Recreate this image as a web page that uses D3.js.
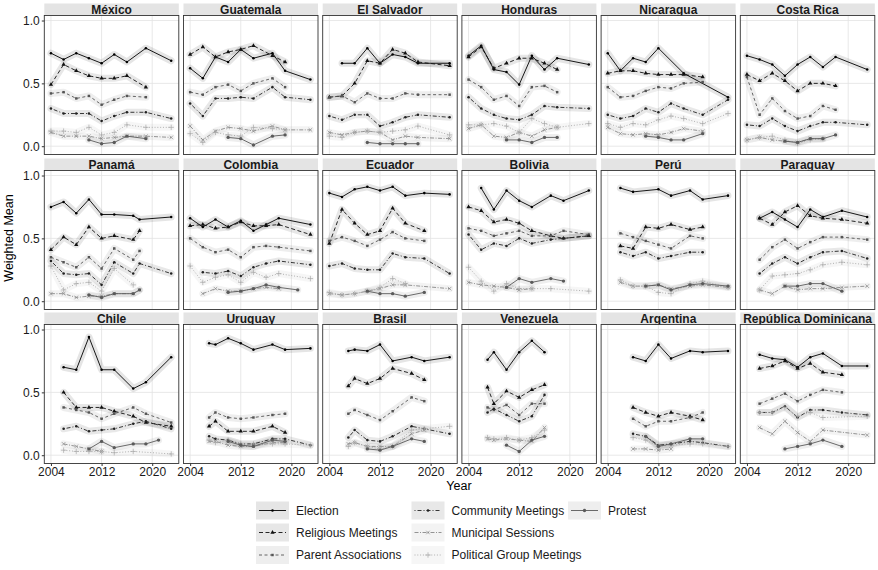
<html>
<head>
<meta charset="utf-8">
<title>Participation by country</title>
<script src="https://cdn.jsdelivr.net/npm/d3@7"></script>
<style>
body { margin: 0; background: #fff; }
text { font-family: "Liberation Sans", Arial, Helvetica, sans-serif; }
</style>
</head>
<body>
<script>

// ---- data ----
var countries = ["México","Guatemala","El Salvador","Honduras","Nicaragua","Costa Rica",
  "Panamá","Colombia","Ecuador","Bolivia","Perú","Paraguay",
  "Chile","Uruguay","Brasil","Venezuela","Argentina","República Dominicana"];

var seriesNames = ["Election","Religious Meetings","Parent Associations","Community Meetings",
  "Municipal Sessions","Political Group Meetings","Protest"];

// survey years for each country (same order as countries)
var waves = [
  [2004,2006,2008,2010,2012,2014,2016,2019,2023],
  [2004,2006,2008,2010,2012,2014,2017,2019,2023],
  [2004,2006,2008,2010,2012,2014,2016,2018,2023],
  [2004,2006,2008,2010,2012,2014,2016,2018,2023],
  [2004,2006,2008,2010,2012,2014,2016,2019,2023],
  [2004,2006,2008,2010,2012,2014,2016,2018,2023],
  [2004,2006,2008,2010,2012,2014,2017,2018,2023],
  [2004,2006,2008,2010,2012,2014,2016,2018,2021,2023],
  [2004,2006,2008,2010,2012,2014,2016,2019,2023],
  [2004,2006,2008,2010,2012,2014,2017,2019,2023],
  [2006,2008,2010,2012,2014,2017,2019,2023],
  [2006,2008,2010,2012,2014,2016,2019,2023],
  [2006,2008,2010,2012,2014,2017,2019,2021,2023],
  [2007,2008,2010,2012,2014,2017,2019,2023],
  [2007,2008,2010,2012,2014,2017,2019,2023],
  [2007,2008,2010,2012,2014,2016],
  [2008,2010,2012,2014,2017,2019,2023],
  [2006,2008,2010,2012,2014,2016,2019,2023]
];

var election = [
  [0.74,0.69,0.74,0.70,0.66,0.73,0.67,0.78,0.68],
  [0.62,0.54,0.71,0.67,0.77,0.70,0.74,0.60,0.53],
  [null,0.66,0.66,0.78,0.66,0.73,0.71,0.66,0.66],
  [0.72,0.80,0.61,0.59,0.49,0.72,0.61,0.70,0.65],
  [0.74,0.60,0.70,0.67,0.78,null,0.58,null,0.39],
  [0.72,0.69,0.65,0.56,0.65,0.71,0.63,0.71,0.61],
  [0.75,0.79,0.70,0.81,0.69,0.69,0.68,0.65,0.67],
  [0.66,0.59,0.65,0.59,0.64,0.56,0.61,0.66,null,0.61],
  [0.86,0.83,0.89,0.91,0.88,0.91,0.84,0.86,0.85],
  [null,0.90,0.73,0.88,0.80,0.75,0.84,0.80,0.88],
  [0.90,0.87,null,0.89,0.84,0.88,0.81,0.84],
  [0.66,0.71,0.65,0.59,0.73,0.67,0.72,0.67],
  [0.70,0.68,0.94,0.68,0.68,0.53,0.58,null,0.78],
  [0.89,0.88,0.93,0.89,0.84,0.88,0.84,0.85],
  [0.83,0.84,0.83,0.88,0.75,0.78,0.75,0.78],
  [0.76,0.82,0.68,0.82,0.91,0.82],
  [0.78,0.75,0.88,0.77,0.83,0.82,0.83],
  [0.80,0.77,0.76,0.70,0.78,0.81,0.71,0.71]
];

var religious = [
  [0.49,0.65,0.60,0.56,0.54,0.54,0.56,0.47,null],
  [0.73,0.79,0.71,0.75,0.77,0.80,0.72,0.67,null],
  [0.39,0.40,0.50,0.68,0.66,0.77,0.74,0.67,0.64],
  [0.71,0.79,0.62,0.66,0.70,0.70,0.66,0.61,null],
  [0.58,0.60,0.60,0.58,0.57,0.57,0.57,0.55,null],
  [0.57,0.52,0.58,0.52,0.44,0.50,0.50,0.48,null],
  [0.41,0.51,0.45,0.59,0.50,0.52,0.49,0.56,null],
  [0.60,0.61,0.58,0.59,0.63,0.60,0.60,0.61,null,0.53],
  [0.46,0.73,0.62,0.53,0.56,0.74,0.62,0.56,null],
  [0.75,0.72,0.63,0.65,0.62,0.56,0.52,0.50,0.52],
  [0.44,0.42,0.59,0.58,0.61,0.57,0.59,null],
  [0.66,0.61,0.71,0.76,0.68,0.66,0.65,0.62],
  [0.50,0.38,0.38,0.38,0.35,0.31,0.26,null,0.23],
  [0.23,0.27,0.19,0.19,0.19,0.23,0.18,null],
  [0.55,0.61,0.57,0.61,0.69,0.65,0.60,null],
  [0.54,0.41,0.51,0.46,0.52,0.56],
  [0.38,0.34,0.31,0.34,0.31,0.28,null],
  [0.69,0.71,0.75,0.69,0.73,0.66,0.64,null]
];

var parent = [
  [0.42,0.43,0.38,0.40,0.33,0.37,0.40,0.39,null],
  [0.43,0.41,0.47,0.49,0.44,0.50,0.54,0.47,null],
  [0.39,0.40,0.35,0.42,0.38,0.38,0.42,0.41,0.41],
  [0.53,0.47,0.37,0.40,0.32,0.47,0.48,0.43,null],
  [0.47,0.39,0.40,0.44,0.47,0.46,0.50,0.51,null],
  [0.55,0.25,0.38,0.28,0.22,0.24,0.32,0.29,null],
  [0.35,0.31,0.27,0.35,0.26,0.42,0.33,0.40,null],
  [0.50,0.43,0.39,0.41,0.35,0.43,0.44,0.43,null,0.40],
  [0.48,0.51,0.48,0.44,0.49,0.55,0.50,0.48,null],
  [0.58,0.56,0.52,0.54,0.56,0.52,0.52,0.56,0.53],
  [0.54,0.51,0.48,0.45,0.42,0.52,0.50,null],
  [0.33,0.43,0.49,0.42,0.47,0.51,0.51,0.49],
  [0.38,0.36,0.34,0.29,0.33,0.38,0.33,null,0.26],
  [0.30,0.34,0.30,0.29,0.30,0.32,0.33,null],
  [0.33,0.36,0.32,0.28,0.35,0.46,0.43,null],
  [0.38,0.36,0.40,0.32,0.41,0.41],
  [0.29,0.23,0.27,0.27,0.30,0.34,null],
  [0.41,0.45,0.49,0.43,0.48,0.52,0.50,null]
];

var community = [
  [0.30,0.26,0.26,0.26,0.20,0.24,0.27,0.27,0.22],
  [0.34,0.24,0.38,0.38,0.39,0.38,0.47,0.39,0.37],
  [0.24,0.21,0.25,0.25,0.16,0.19,0.23,0.25,0.23],
  [0.39,0.30,0.25,0.22,0.21,0.25,0.32,0.31,0.30],
  [0.25,0.22,0.24,0.30,0.27,0.34,0.30,0.25,0.37],
  [0.17,0.16,0.22,0.16,0.12,0.16,0.19,0.19,0.17],
  [0.32,0.22,0.21,0.22,0.13,0.31,0.22,0.30,0.22],
  [null,0.23,0.22,0.24,0.20,0.27,0.30,0.32,null,0.29],
  [0.28,0.30,0.26,0.25,0.25,0.38,0.35,0.34,0.22],
  [0.53,0.41,0.46,0.44,0.50,0.46,0.49,0.50,0.52],
  [0.39,0.36,0.39,0.34,0.36,0.39,0.39,null],
  [0.22,0.30,0.35,0.30,0.35,0.39,0.40,0.34],
  [0.21,0.23,0.19,0.20,0.21,0.25,0.27,null,0.21],
  [0.15,0.13,0.12,0.09,0.09,0.13,0.13,0.08],
  [0.14,0.20,0.12,0.11,0.15,0.23,0.21,0.17],
  [0.34,0.37,0.32,0.27,0.31,0.48],
  [0.17,0.15,0.08,0.09,0.11,0.10,0.07],
  [0.34,0.34,0.39,0.30,0.36,0.36,0.34,0.32]
];

var municipal = [
  [0.11,0.08,0.08,0.08,0.06,0.07,0.08,0.08,0.07],
  [0.16,0.05,0.12,0.15,0.14,0.12,0.16,0.13,0.13],
  [0.11,0.09,0.11,0.12,0.11,0.05,0.08,0.07,0.06],
  [0.14,0.17,0.08,0.07,0.11,0.08,0.13,0.15,null],
  [0.15,0.10,0.09,0.10,0.09,0.11,0.14,0.12,null],
  [0.05,0.07,0.05,0.04,0.03,0.06,0.06,null,null],
  [0.06,0.06,0.03,0.04,0.04,0.06,0.06,0.09,null],
  [null,0.06,0.10,0.08,0.08,0.10,0.11,0.10,null,null],
  [0.06,0.05,0.06,0.08,0.10,0.13,0.13,null,0.10],
  [0.15,0.13,0.12,0.11,0.09,0.10,null,null,null],
  [0.15,0.12,0.12,0.13,0.10,0.12,0.13,0.11],
  [0.09,0.06,0.12,0.09,0.10,0.10,0.11,0.12],
  [0.09,0.07,0.05,0.03,null,null,null,null,null],
  [0.11,0.11,0.08,0.07,0.07,0.10,0.10,null],
  [0.09,0.10,0.07,0.07,0.07,0.17,0.20,null],
  [0.13,0.12,0.13,0.12,0.11,0.22],
  [0.05,0.05,0.04,0.05,null,null,null],
  [0.22,0.17,0.27,0.18,0.11,0.20,null,0.16]
];

var political = [
  [0.12,0.12,0.11,0.15,0.09,0.11,0.17,0.15,0.15],
  [0.10,0.03,0.11,0.09,0.08,0.15,0.14,0.13,null],
  [0.08,0.07,0.11,0.12,0.11,0.12,0.13,0.16,0.09],
  [0.17,0.17,0.18,0.16,0.11,0.22,0.18,0.15,0.18],
  [0.18,0.15,0.18,0.17,0.21,0.24,0.22,0.18,0.26],
  [0.05,0.07,0.08,0.05,0.02,0.05,0.06,null,null],
  [0.28,0.09,0.14,0.15,0.08,0.26,0.13,null,null],
  [0.28,0.15,0.19,0.21,0.15,0.23,0.19,0.22,null,0.18],
  [0.07,0.05,0.06,0.08,0.11,0.18,0.14,null,null],
  [0.27,0.16,0.08,0.14,0.10,0.10,0.10,null,0.08],
  [0.17,0.12,0.12,0.07,0.06,0.14,0.16,0.11],
  [0.09,0.20,0.21,0.22,0.25,0.29,0.31,0.29],
  [0.04,0.03,0.03,0.03,0.02,0.03,null,null,0.01],
  [0.12,0.10,0.12,0.09,0.09,0.09,0.09,0.08],
  [0.07,0.10,0.07,0.05,0.07,0.20,0.21,0.23],
  [0.14,0.13,0.14,0.12,0.14,0.20],
  [0.14,0.12,0.07,0.08,0.09,0.09,0.07],
  [0.34,0.34,0.38,0.31,0.34,0.30,null,0.31]
];

var protest = [
  [null,null,null,0.05,0.02,0.03,0.08,0.06,null],
  [null,null,null,0.07,0.06,0.01,0.08,0.09,null],
  [null,null,null,0.03,0.02,0.02,0.02,0.02,null],
  [null,null,null,0.05,0.05,0.03,0.07,0.07,null],
  [null,null,null,0.08,0.07,0.05,0.05,0.10,null],
  [null,null,null,0.04,0.03,0.06,0.06,0.09,null],
  [null,null,null,0.05,0.03,0.06,0.06,0.09,null],
  [null,null,null,0.07,0.08,0.10,0.13,0.11,0.09,null],
  [null,null,null,0.08,0.06,0.06,0.04,0.07,null],
  [null,null,null,0.11,0.18,0.15,0.18,0.16,null],
  [null,null,0.12,0.13,0.09,0.13,0.14,0.12],
  [null,null,0.12,0.12,0.14,0.14,0.08,null],
  [null,null,0.05,0.11,0.06,0.09,0.09,0.12,null],
  [null,null,0.11,0.08,0.07,0.12,0.11,null],
  [null,null,0.05,0.04,0.07,0.13,0.11,null],
  [null,null,0.08,0.03,0.12,0.15],
  [null,0.15,0.07,0.09,0.13,0.13,null],
  [null,null,0.05,0.07,0.09,0.12,0.07,null]
];

var yTicks = [0, 0.5, 1];
var xTicks = [2004, 2012, 2020];

// ---- styles ----
var series = [election, religious, parent, community, municipal, political, protest];
var styles = [
  {color: "#000000", dash: null,          shape: d3.symbolCircle,   size: 5,  stroke: false},
  {color: "#111111", dash: "4,2.5",       shape: d3.symbolTriangle, size: 8,  stroke: false},
  {color: "#555555", dash: "3,2.5",       shape: d3.symbolSquare,   size: 6,  stroke: false},
  {color: "#222222", dash: "1,2,4,2",     shape: d3.symbolCircle,   size: 5,  stroke: false},
  {color: "#888888", dash: "4,1.5,1,1.5", shape: d3.symbolTimes,    size: 10, stroke: true},
  {color: "#a8a8a8", dash: "1,1.8",       shape: d3.symbolPlus,     size: 11, stroke: true},
  {color: "#5a5a5a", dash: null,          shape: d3.symbolCircle,   size: 9,  stroke: false}
];

var width = 878, height = 570;
var left0 = 44.3, colPitch = 139.2, pw = 134.5, ph = 139, stripH = 11.5;
var rowTops = [15.5, 170.5, 324.5];

var x = d3.scaleLinear().domain([2002.95, 2024.2]).range([0, pw]);
var y = d3.scaleLinear().domain([-0.066, 1.04]).range([ph, 0]);

var svg = d3.select("body").append("svg")
    .attr("width", width)
    .attr("height", height);

var line = d3.line()
    .x(function(d) { return x(d.yr); })
    .y(function(d) { return y(d.v); });

countries.forEach(function(name, i) {
  var col = i % 6, row = Math.floor(i / 6);
  var g = svg.append("g")
      .attr("transform", "translate(" + (left0 + col * colPitch) + "," + rowTops[row] + ")");

  // strip
  g.append("rect")
      .attr("x", 0).attr("y", -stripH - 0.5)
      .attr("width", pw).attr("height", stripH)
      .attr("fill", "#e4e4e4");
  g.append("text")
      .attr("x", pw / 2).attr("y", -stripH / 2 - 0.5)
      .attr("dy", "0.36em")
      .attr("text-anchor", "middle")
      .attr("font-size", "12px")
      .attr("font-weight", "bold")
      .attr("fill", "#1a1a1a")
      .text(name);

  // grid
  g.append("rect").attr("width", pw).attr("height", ph).attr("fill", "#fff");
  g.selectAll(".gx").data(xTicks).enter().append("line")
      .attr("x1", function(d) { return x(d); }).attr("x2", function(d) { return x(d); })
      .attr("y1", 0).attr("y2", ph)
      .attr("stroke", "#e2e2e2").attr("stroke-width", 0.8);
  g.selectAll(".gy").data(yTicks).enter().append("line")
      .attr("y1", function(d) { return y(d); }).attr("y2", function(d) { return y(d); })
      .attr("x1", 0).attr("x2", pw)
      .attr("stroke", "#e2e2e2").attr("stroke-width", 0.8);

  var sets = series.map(function(s) {
    return waves[i].map(function(yr, j) { return {yr: yr, v: s[i][j]}; })
      .filter(function(d) { return d.v != null; });
  });

  // ribbons (soft bands under each line)
  sets.forEach(function(pts, k) {
    if (pts.length < 2) return;
    g.append("path").datum(pts)
        .attr("d", line)
        .attr("fill", "none")
        .attr("stroke", styles[k].color)
        .attr("stroke-opacity", 0.1)
        .attr("stroke-width", 7)
        .attr("stroke-linejoin", "round")
        .attr("stroke-linecap", "round");
  });

  sets.forEach(function(pts, k) {
    var st = styles[k];
    g.append("path").datum(pts)
        .attr("d", line)
        .attr("fill", "none")
        .attr("stroke", st.color)
        .attr("stroke-width", 0.9)
        .attr("stroke-dasharray", st.dash);
    g.selectAll(".p" + k).data(pts).enter().append("path")
        .attr("transform", function(d) { return "translate(" + x(d.yr) + "," + y(d.v) + ")"; })
        .attr("d", d3.symbol().type(st.shape).size(st.size))
        .attr("fill", st.stroke ? "none" : st.color)
        .attr("stroke", st.stroke ? st.color : "none")
        .attr("stroke-width", 0.7);
  });

  g.append("rect").attr("width", pw).attr("height", ph)
      .attr("fill", "none").attr("stroke", "#333").attr("stroke-width", 0.9);

  if (col === 0) {
    var ya = g.append("g")
        .call(d3.axisLeft(y).tickValues(yTicks).tickFormat(d3.format(".1f")).tickSize(2.5).tickPadding(2));
    ya.select(".domain").remove();
    ya.selectAll("line").attr("stroke", "#333");
    ya.selectAll("text").attr("font-size", "12px").attr("fill", "#1a1a1a")
        .style("font-family", "Liberation Sans, Arial, sans-serif");
  }
  if (row === 2) {
    var xa = g.append("g")
        .attr("transform", "translate(0," + ph + ")")
        .call(d3.axisBottom(x).tickValues(xTicks).tickFormat(d3.format("d")).tickSize(2.5).tickPadding(1));
    xa.select(".domain").remove();
    xa.selectAll("line").attr("stroke", "#333");
    xa.selectAll("text").attr("font-size", "12px").attr("fill", "#1a1a1a")
        .style("font-family", "Liberation Sans, Arial, sans-serif");
  }
});

// axis titles
svg.append("text")
    .attr("transform", "translate(13,238) rotate(-90)")
    .attr("text-anchor", "middle")
    .attr("font-size", "12.5px")
    .text("Weighted Mean");
svg.append("text")
    .attr("x", 459).attr("y", 490)
    .attr("text-anchor", "middle")
    .attr("font-size", "12.5px")
    .text("Year");

// legend
var legCols = [256, 411.5, 568];
var legRows = [510.5, 532.5, 555];
seriesNames.forEach(function(nm, k) {
  var c = Math.floor(k / 3), r = k % 3;
  var st = styles[k];
  var lg = svg.append("g").attr("transform", "translate(" + legCols[c] + "," + legRows[r] + ")");
  lg.append("rect").attr("x", 0).attr("y", -9).attr("width", 33).attr("height", 18)
      .attr("fill", st.color).attr("fill-opacity", 0.1);
  lg.append("line").attr("x1", 3).attr("x2", 30).attr("y1", 0).attr("y2", 0)
      .attr("stroke", st.color).attr("stroke-width", 0.9)
      .attr("stroke-dasharray", st.dash);
  lg.append("path")
      .attr("transform", "translate(16.5,0)")
      .attr("d", d3.symbol().type(st.shape).size(st.size))
      .attr("fill", st.stroke ? "none" : st.color)
      .attr("stroke", st.stroke ? st.color : "none")
      .attr("stroke-width", 0.7);
  lg.append("text").attr("x", 40).attr("y", 0).attr("dy", "0.35em")
      .attr("font-size", "12px").attr("fill", "#1a1a1a")
      .text(nm);
});

</script>
</body>
</html>
